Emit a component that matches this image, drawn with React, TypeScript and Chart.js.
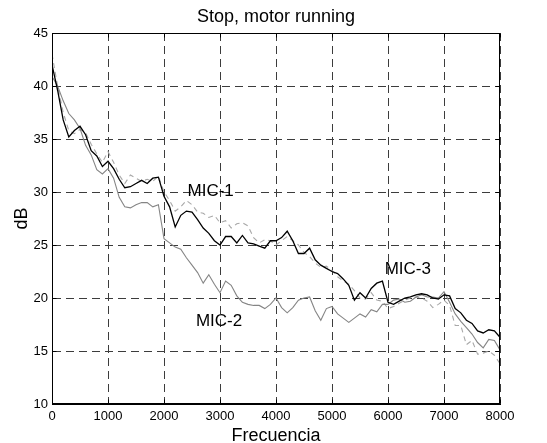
import React, { useEffect, useRef } from "react";
import { Chart, registerables } from "chart.js";

Chart.register(...registerables);

const FREQ = [
  0, 100, 200, 300, 400, 500, 600, 700, 800, 900,
  1000, 1100, 1200, 1300, 1400, 1500, 1600, 1700, 1800, 1900,
  2000, 2100, 2200, 2300, 2400, 2500, 2600, 2700, 2800, 2900,
  3000, 3100, 3200, 3300, 3400, 3500, 3600, 3700, 3800, 3900,
  4000, 4100, 4200, 4300, 4400, 4500, 4600, 4700, 4800, 4900,
  5000, 5100, 5200, 5300, 5400, 5500, 5600, 5700, 5800, 5900,
  6000, 6100, 6200, 6300, 6400, 6500, 6600, 6700, 6800, 6900,
  7000, 7100, 7200, 7300, 7400, 7500, 7600, 7700, 7800, 7900,
  8000,
];

const MIC1 = [
  42.0, 39.6, 36.8, 35.2, 35.8, 36.2, 35.4, 33.9, 33.4, 32.4,
  32.9, 32.2, 31.2, 30.4, 30.5, 30.8, 31.1, 30.8, 31.3, 31.4,
  29.6, 28.6, 26.7, 27.8, 28.2, 28.1, 27.4, 26.6, 26.1, 25.4,
  25.0, 25.8, 25.8, 25.2, 25.9, 25.2, 25.1, 24.9, 24.7, 25.4,
  25.4, 25.7, 26.3, 25.4, 24.2, 24.2, 24.7, 23.6, 23.1, 22.8,
  22.5, 22.3, 21.8, 21.2, 19.8, 20.5, 20.0, 20.9, 21.4, 21.6,
  19.6, 19.4, 19.7, 20.0, 20.1, 20.3, 20.4, 20.3, 20.0, 19.9,
  20.3, 20.2, 19.0, 18.6, 17.9, 17.6, 16.9, 16.7, 17.0, 16.9,
  16.3,
];

const MIC2 = [
  40.9, 40.0, 38.6, 37.4, 36.8, 36.0, 34.4, 33.5, 32.1, 31.7,
  32.2, 31.3, 29.5, 28.6, 28.5, 28.8, 29.0, 29.0, 28.6, 28.8,
  25.6, 25.2, 24.8, 24.6, 23.8, 23.1, 22.4, 21.4, 22.2, 21.3,
  20.5, 21.6, 21.2, 20.2, 19.6, 19.4, 19.3, 19.3, 19.0, 19.4,
  20.0, 19.1, 18.6, 19.1, 19.8, 20.0, 20.1, 18.8, 17.9, 19.0,
  19.2, 18.5, 18.1, 17.7, 18.1, 18.5, 18.2, 18.9, 18.7, 19.4,
  19.4, 19.8, 19.9, 19.6, 19.7, 20.1, 20.3, 20.1, 20.1, 20.0,
  20.6, 19.6, 18.5, 17.8, 17.2, 16.6, 15.8, 15.3, 16.1, 16.0,
  15.1,
];

const MIC3 = [
  43.0, 40.0, 37.5, 35.8, 35.5, 35.9, 35.6, 34.5, 33.6, 32.8,
  33.8, 32.8, 31.6, 30.8, 31.6, 31.3, 31.0, 31.2, 31.0, 31.5,
  30.0, 29.2, 28.2, 28.6, 29.2, 28.8, 28.1, 28.0, 27.6, 27.8,
  27.1, 27.3, 26.6, 27.0, 27.1, 26.8, 25.7, 25.2, 25.5, 25.4,
  25.0, 25.4, 25.8, 25.4, 25.0, 24.3, 23.9, 23.3, 22.9, 23.0,
  22.6, 22.0, 21.6, 21.3, 20.7, 20.0, 19.9, 20.5, 19.8, 19.7,
  19.0, 19.2, 19.5, 19.8, 20.0, 20.1, 20.0, 19.7, 19.1, 19.4,
  19.8, 19.3, 17.4, 17.4, 15.6, 16.0, 14.7, 14.8, 15.0, 14.6,
  13.8,
];

const X_TICKS = [0, 1000, 2000, 3000, 4000, 5000, 6000, 7000, 8000];
const Y_TICKS = [10, 15, 20, 25, 30, 35, 40, 45];

const SERIES_NAMES = ["MIC-1", "MIC-2", "MIC-3"];
const LABEL_FREQ = [2420, 2570, 5940];
const LABEL_DB = [30.1, 17.8, 22.7];

const TITLE = "Stop, motor running";
const X_TITLE = "Frecuencia";
const Y_TITLE = "dB";

const FONT = '"Liberation Sans", Arial, Helvetica, sans-serif';

const decorations = {
  id: "decorations",
  afterDraw(chart: any) {
    const { ctx, chartArea: a, scales } = chart;
    const xs = scales.x;
    const ys = scales.y;
    ctx.save();
    ctx.setLineDash([]);
    ctx.strokeStyle = "#000";
    ctx.lineWidth = 1;
    const L = Math.round(a.left) + 0.5;
    const R = Math.round(a.right) - 0.5;
    const T = Math.round(a.top) + 0.5;
    const B = Math.round(a.bottom) - 0.5;
    ctx.strokeRect(L, T, R - L, B - T);
    const tl = 4;
    ctx.beginPath();
    X_TICKS.forEach((v) => {
      const px = Math.round(xs.getPixelForValue(v)) + 0.5;
      ctx.moveTo(px, B);
      ctx.lineTo(px, B - tl);
      ctx.moveTo(px, T);
      ctx.lineTo(px, T + tl);
    });
    Y_TICKS.forEach((v) => {
      const py = Math.round(ys.getPixelForValue(v)) + 0.5;
      ctx.moveTo(L, py);
      ctx.lineTo(L + tl, py);
      ctx.moveTo(R, py);
      ctx.lineTo(R - tl, py);
    });
    ctx.stroke();

    ctx.fillStyle = "#000";
    ctx.font = `18px ${FONT}`;
    ctx.textAlign = "center";
    ctx.textBaseline = "alphabetic";
    const cx = (a.left + a.right) / 2;
    ctx.fillText(TITLE, cx, 21.5);
    ctx.fillText(X_TITLE, cx, 440.5);

    ctx.save();
    ctx.translate(27, (a.top + a.bottom) / 2);
    ctx.rotate(-Math.PI / 2);
    ctx.fillText(Y_TITLE, 0, 0);
    ctx.restore();

    ctx.font = `17px ${FONT}`;
    ctx.textAlign = "left";
    ctx.textBaseline = "middle";
    SERIES_NAMES.forEach((name, i) => {
      ctx.fillText(name, xs.getPixelForValue(LABEL_FREQ[i]), ys.getPixelForValue(LABEL_DB[i]));
    });
    ctx.restore();
  },
};

export default function App() {
  const ref = useRef<HTMLCanvasElement | null>(null);

  useEffect(() => {
    if (!ref.current) return;
    const toPts = (vals: number[]) => FREQ.map((f, i) => ({ x: f, y: vals[i] }));
    const chart = new Chart(ref.current, {
      type: "line",
      data: {
        datasets: [
          {
            label: SERIES_NAMES[0],
            data: toPts(MIC1),
            borderColor: "#000000",
            borderWidth: 1.3,
            pointRadius: 0,
            tension: 0,
          },
          {
            label: SERIES_NAMES[1],
            data: toPts(MIC2),
            borderColor: "#858585",
            borderWidth: 1.1,
            pointRadius: 0,
            tension: 0,
          },
          {
            label: SERIES_NAMES[2],
            data: toPts(MIC3),
            borderColor: "#a8a8a8",
            borderWidth: 1.1,
            borderDash: [5, 4],
            pointRadius: 0,
            tension: 0,
          },
        ],
      },
      options: {
        responsive: false,
        animation: false,
        devicePixelRatio: 1,
        layout: { padding: { left: 0, right: 47, top: 33, bottom: 0 } },
        plugins: {
          legend: { display: false },
          tooltip: { enabled: false },
          title: { display: false },
        },
        scales: {
          x: {
            type: "linear",
            min: 0,
            max: 8000,
            afterFit: (s: any) => {
              s.height = 39;
            },
            afterBuildTicks: (s: any) => {
              s.ticks = X_TICKS.map((v) => ({ value: v }));
            },
            ticks: {
              color: "#000",
              font: { family: FONT, size: 13 },
              padding: 5,
              maxRotation: 0,
              autoSkip: false,
              callback: (v: any) => String(v),
            },
            grid: { color: "#3c3c3c", lineWidth: 1, drawTicks: false },
            border: { display: true, color: "#000", width: 1, dash: [8, 5] },
          },
          y: {
            type: "linear",
            min: 10,
            max: 45,
            afterFit: (s: any) => {
              s.width = 52;
            },
            afterBuildTicks: (s: any) => {
              s.ticks = Y_TICKS.map((v) => ({ value: v }));
            },
            ticks: {
              color: "#000",
              font: { family: FONT, size: 13 },
              padding: 4,
              autoSkip: false,
              callback: (v: any) => String(v),
            },
            grid: { color: "#3c3c3c", lineWidth: 1, drawTicks: false },
            border: { display: true, color: "#000", width: 1, dash: [8, 5] },
          },
        },
      },
      plugins: [decorations],
    });
    return () => chart.destroy();
  }, []);

  return (
    <div style={{ position: "absolute", left: 0, top: 0, width: 547, height: 443, background: "#fff" }}>
      <canvas ref={ref} width={547} height={443} style={{ width: 547, height: 443, display: "block" }} />
    </div>
  );
}
